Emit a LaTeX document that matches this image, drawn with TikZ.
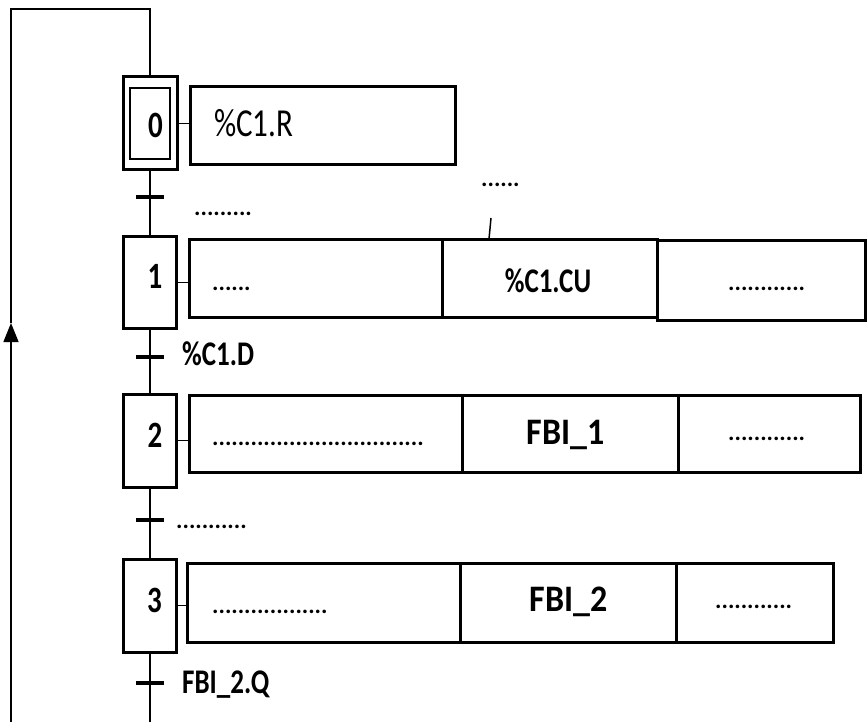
\documentclass[tikz,border=0pt]{standalone}
\usepackage{fontspec}
\setmainfont{Carlito}
\usetikzlibrary{arrows.meta}
\newcommand{\vst}[1]{\scalebox{1}[1.28]{#1}}
\begin{document}
\begin{tikzpicture}[x=1pt,y=-1pt,
  stepbox/.style={draw, line width=3pt, minimum width=53pt, minimum height=92pt, inner sep=0pt},
  innerbox/.style={draw, line width=2pt, minimum width=40pt, minimum height=71pt, inner sep=0pt},
  actbox/.style={draw, line width=3pt, inner sep=0pt},
  trbar/.style={fill=black, minimum width=28pt, minimum height=4.5pt, inner sep=0pt},
  link/.style={line width=1.5pt},
  num/.style={inner sep=0pt, anchor=base, font=\bfseries\fontsize{29}{31}\selectfont},
  lbl/.style={inner sep=0pt, font=\bfseries\fontsize{27}{30}\selectfont},
  big/.style={inner sep=0pt, anchor=base, font=\bfseries\fontsize{34}{38}\selectfont},
  dots/.style={inner sep=0pt, anchor=base west, font=\bfseries\fontsize{24}{26}\selectfont}]
\useasboundingbox (0,0) rectangle (867,722);

% steps
\node[stepbox, minimum width=54pt, minimum height=93pt] (s0) at (150,123.5) {};
\node[innerbox] (s0i) at (150,123.5) {};
\node[stepbox] (s1) at (150,282.5) {};
\node[stepbox, minimum height=93pt] (s2) at (150,440.5) {};
\node[stepbox, minimum height=93pt] (s3) at (150,605.5) {};

\node[num] (d0) at (155.5,138) {\vst{0}};
\node[num] (d1) at (155,288) {\vst{1}};
\node[num] (d2) at (155,447) {\vst{2}};
\node[num] (d3) at (154.5,612) {\vst{3}};

% transitions
\node[trbar] (t0) at (150,197) {};
\node[trbar] (t1) at (150,357) {};
\node[trbar] (t2) at (150,520) {};
\node[trbar] (t3) at (150,683) {};
\coordinate (bot) at (150,722);

\draw[link] (s0.south) -- (t0) -- (s1.north);
\draw[link] (s1.south) -- (t1) -- (s2.north);
\draw[link] (s2.south) -- (t2) -- (s3.north);
\draw[link] (s3.south) -- (t3) -- (bot);

% loop back
\coordinate (lb) at (11,722);
\coordinate (am) at (11,323);
\coordinate (lt) at (11,9);
\coordinate (rt) at (150,9);
\draw[link, -{Triangle[length=19pt,width=15pt]}] (lb) -- (am);
\draw[link] (am) -- (lt) -- (rt) -- (s0.north);

% action boxes
\node[actbox, minimum width=265pt, minimum height=78pt] (r0) at (322.5,126) {};
\node[actbox, minimum width=253pt, minimum height=78pt] (r1a) at (315.5,278) {};
\node[actbox, minimum width=215pt, minimum height=78pt] (r1b) at (549.5,278) {};
\node[actbox, minimum width=208pt, minimum height=80pt] (r1c) at (761,280) {};
\node[actbox, minimum width=273pt, minimum height=77pt] (r2a) at (325.5,433.5) {};
\node[actbox, minimum width=216pt, minimum height=77pt] (r2b) at (570,433.5) {};
\node[actbox, minimum width=182pt, minimum height=77pt] (r2c) at (769,433.5) {};
\node[actbox, minimum width=273pt, minimum height=79pt] (r3a) at (323.5,602.5) {};
\node[actbox, minimum width=216pt, minimum height=79pt] (r3b) at (568,602.5) {};
\node[actbox, minimum width=157pt, minimum height=79pt] (r3c) at (754.5,602.5) {};

\draw[link] (s0.east) -- (s0.east -| r0.west);
\draw[link] (s1.east) -- (s1.east -| r1a.west);
\draw[link] (s2.east) -- (s2.east -| r2a.west);
\draw[link] (s3.east) -- (s3.east -| r3a.west);

% tick above %C1.CU
\coordinate (tk) at (491,218);
\draw[link] (tk) -- ++(-2,21);

% texts
\node[inner sep=0pt, anchor=base west, font=\fontsize{31}{34}\selectfont] (a0) at (214,137) {\vst{\%C1.R}};
\node[lbl, anchor=base] (a1b) at (548,292) {\vst{\%C1.CU}};
\node[big] (a2b) at (565.5,444) {\scalebox{1}[1.1]{FBI\_1}};
\node[big] (a3b) at (568.5,611) {\scalebox{1}[1.1]{FBI\_2}};

\node[lbl, anchor=base west] (c1) at (182,365) {\vst{\%C1.D}};
\node[lbl, anchor=base west] (c3) at (182,693) {\vst{FBI\_2.Q}};

\node[dots] (c0) at (194,215) {.........};
\node[dots] (e1) at (481,186) {......};
\node[dots] (a1a) at (212,290) {......};
\node[dots] (a1c) at (728,290) {............};
\node[dots] (a2a) at (212,445) {.................................};
\node[dots] (a2c) at (728,440) {............};
\node[dots] (c2) at (176,528) {...........};
\node[dots] (a3a) at (212,613) {..................};
\node[dots] (a3c) at (715,608) {............};
\end{tikzpicture}
\end{document}
